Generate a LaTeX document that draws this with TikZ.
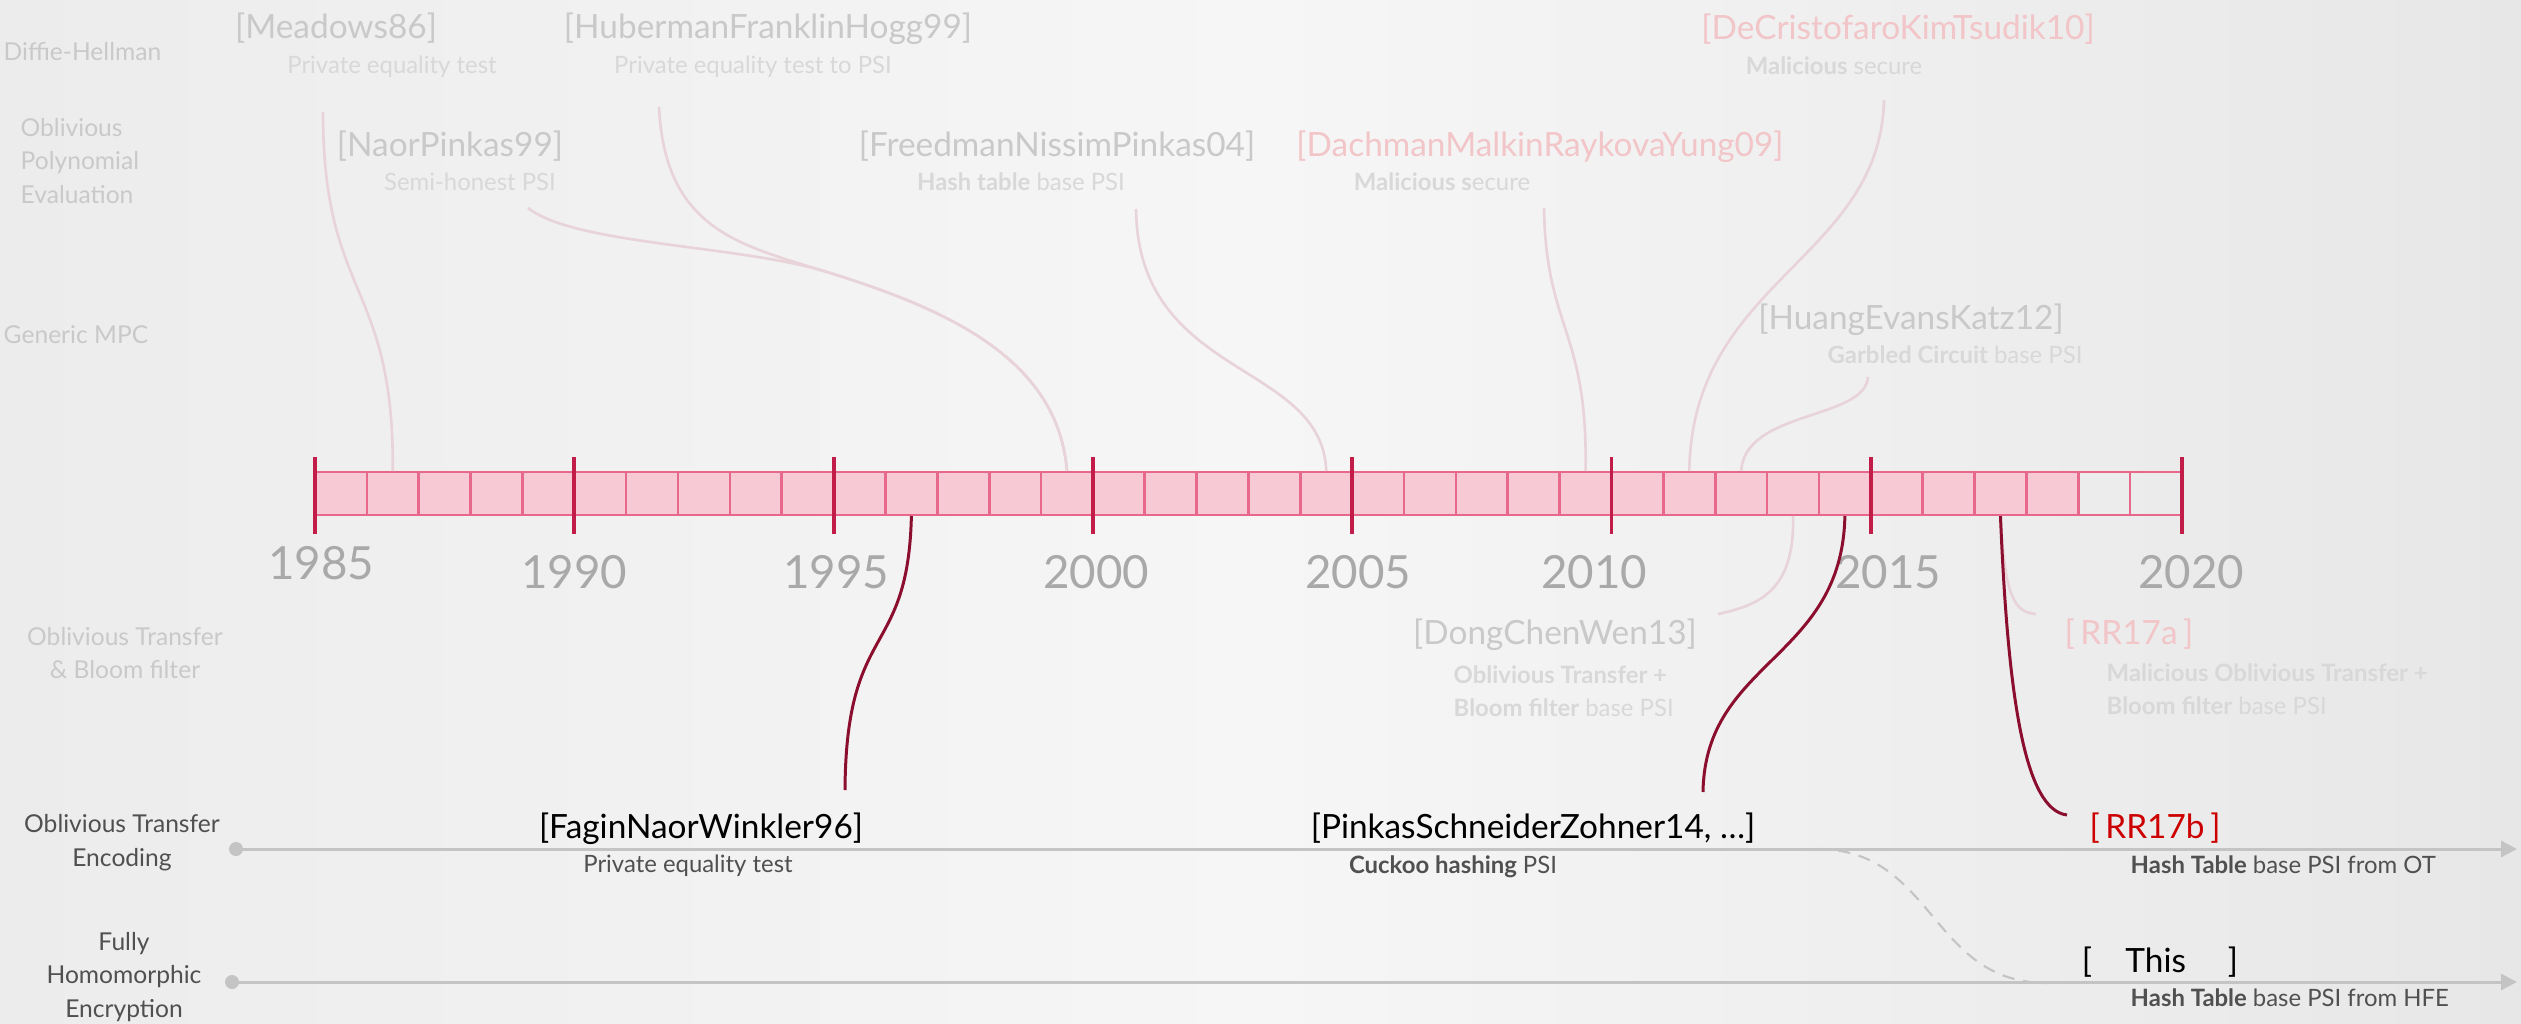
\documentclass[tikz,border=0pt]{standalone}
\usepackage{fontspec}
\setmainfont{Lato}
\usetikzlibrary{arrows.meta}

\definecolor{paperleft}{HTML}{ECECEC}
\definecolor{papermid}{HTML}{F6F6F6}
\definecolor{paperright}{HTML}{E7E7E7}
\definecolor{cellfill}{HTML}{F7C9D5}
\definecolor{cellline}{HTML}{E8688B}
\definecolor{tickred}{HTML}{C21C48}
\definecolor{yeargray}{HTML}{A9A9A9}
\definecolor{oldgray}{HTML}{C9C9C9}
\definecolor{oldsub}{HTML}{D8D8D8}
\definecolor{oldpink}{HTML}{F2C5C8}
\definecolor{oldlink}{HTML}{E8D3D9}
\definecolor{newlink}{HTML}{8C0E2E}
\definecolor{trackgray}{HTML}{C4C4C4}
\definecolor{labelgray}{HTML}{505050}
\definecolor{ourred}{HTML}{CC0000}

\begin{document}
\begin{tikzpicture}[
x=0.1mm, y=-0.1mm,
citenode/.style={anchor=base, inner sep=0pt, font=\fontsize{9.5}{11}\selectfont},
notenode/.style={anchor=base, inner sep=0pt, font=\fontsize{6.8}{9.4}\selectfont},
sidenode/.style={inner sep=0pt, font=\fontsize{7}{9.6}\selectfont},
yearnode/.style={inner sep=0pt, yeargray, font=\fontsize{13}{15}\selectfont},
oldlinkline/.style={oldlink, line width=0.75pt},
newlinkline/.style={newlink, line width=0.85pt},
trackline/.style={trackgray, line width=0.85pt, -{Triangle[length=4.5pt, width=4.5pt]}},
trackdot/.style={circle, fill=trackgray, inner sep=0pt, minimum size=1.4mm},
forkline/.style={trackgray, line width=0.6pt, dash pattern=on 3.5pt off 2.5pt}
]

\useasboundingbox (0,0) rectangle (2521,1024);
\shade[left color=paperleft, right color=paperright, middle color=papermid]
(0,0) rectangle (2521,1024);

% technique labels on the left
\node[sidenode, oldgray, anchor=west] (dh) at (3,52) {Diffie-Hellman};
\node[sidenode, oldgray, anchor=west, align=left] (ope) at (20,161)
{Oblivious\\Polynomial\\Evaluation};
\node[sidenode, oldgray, anchor=west] (mpc) at (3,335) {Generic MPC};
\node[sidenode, oldgray, align=center] (otbf) at (125,653)
{Oblivious Transfer\\\& Bloom filter};
\node[sidenode, labelgray, align=center] (otlabel) at (122,843)
{Oblivious Transfer\\Encoding};
\node[sidenode, labelgray, align=center] (fhelabel) at (124,977)
{Fully\\Homomorphic\\Encryption};

% year bar
\fill[cellfill] (315,472) rectangle ({315+34*51.86},515);
\draw[cellline, line width=0.85pt] (315,472) -- (2182,472) (315,515) -- (2182,515);
\foreach \i in {1,...,35}
\draw[cellline, line width=0.75pt] ({315+\i*51.86},472) -- ({315+\i*51.86},515);
\foreach \i in {0,5,...,30,36}
\draw[tickred, line width=1.1pt] ({315+\i*51.86},457) -- ({315+\i*51.86},534);
\foreach \i in {0,...,35} {
\pgfmathtruncatemacro\yy{1985+\i}
\coordinate (t\yy) at ({315+(\i+0.5)*51.86},471);
\coordinate (b\yy) at ({315+(\i+0.5)*51.86},516);
}

\node[yearnode] (y1985) at (321,563) {1985};
\node[yearnode] (y1990) at (574,572) {1990};
\node[yearnode] (y1995) at (836,572) {1995};
\node[yearnode] (y2000) at (1096,572) {2000};
\node[yearnode] (y2005) at (1358,572) {2005};
\node[yearnode] (y2010) at (1594,572) {2010};
\node[yearnode] (y2015) at (1888,572) {2015};
\node[yearnode] (y2020) at (2191,572) {2020};

% earlier work, faded
\node[citenode, oldgray] (meadows) at (336,39) {[Meadows86]};
\node[notenode, oldsub] (meadowsnote) at (392,74) {Private equality test};
\node[citenode, oldgray] (hfh) at (768,39) {[HubermanFranklinHogg99]};
\node[notenode, oldsub] (hfhnote) at (753,74) {Private equality test to PSI};
\node[citenode, oldgray] (np) at (450,157) {[NaorPinkas99]};
\node[notenode, oldsub] (npnote) at (470,191) {Semi-honest PSI};
\node[citenode, oldgray] (fnp) at (1057,157) {[FreedmanNissimPinkas04]};
\node[notenode, oldsub] (fnpnote) at (1021,191) {\textbf{Hash table} base PSI};
\node[citenode, oldpink] (dmry) at (1540,157) {[DachmanMalkinRaykovaYung09]};
\node[notenode, oldsub] (dmrynote) at (1442,191) {\textbf{Malicious s}ecure};
\node[citenode, oldpink] (dkt) at (1898,40) {[DeCristofaroKimTsudik10]};
\node[notenode, oldsub] (dktnote) at (1834,75) {\textbf{Malicious} secure};
\node[citenode, oldgray] (hek) at (1911,329) {[HuangEvansKatz12]};
\node[notenode, oldsub] (heknote) at (1955,363) {\textbf{Garbled Circuit} base PSI};
\node[citenode, oldgray] (dcw) at (1555,644) {[DongChenWen13]};
\node[notenode, oldsub, anchor=west, align=left] (dcwnote) at (1453,691)
{\textbf{Oblivious Transfer +}\\\textbf{Bloom filter} base PSI};
\node[citenode, oldpink] (rra) at (2129,644) {[\,RR17a\,]};
\node[notenode, oldsub, anchor=west, align=left] (rranote) at (2106,689)
{\textbf{Malicious Oblivious Transfer +}\\\textbf{Bloom filter} base PSI};

\coordinate (meadows-in) at (323,112);
\coordinate (hfh-in) at (659,107);
\coordinate (np-in) at (528,208);
\coordinate (merge) at (827,272);
\coordinate (fnp-in) at (1136,209);
\coordinate (dmry-in) at (1544,208);
\coordinate (dkt-in) at (1884,100);
\coordinate (hek-in) at (1868,377);
\coordinate (dcw-out) at (1718,614);
\coordinate (rra-out) at (2036,614);

\draw[oldlinkline] (meadows-in) .. controls (323,300) and (394,280) .. (t1986);
\draw[oldlinkline] (np-in) .. controls (575,245) and (740,245) .. (merge)
.. controls (950,310) and (1058,360) .. (t1999);
\draw[oldlinkline] (hfh-in) .. controls (665,230) and (740,245) .. (merge)
.. controls (950,310) and (1058,360) .. (t1999);
\draw[oldlinkline] (fnp-in) .. controls (1138,380) and (1322,360) .. (t2004);
\draw[oldlinkline] (dmry-in) .. controls (1546,330) and (1588,330) .. (t2009);
\draw[oldlinkline] (dkt-in) .. controls (1880,260) and (1692,280) .. (t2011);
\draw[oldlinkline] (hek-in) .. controls (1865,420) and (1745,410) .. (t2012);
\draw[oldlinkline] (b2013) .. controls (1795,590) and (1760,605) .. (dcw-out);
\draw[oldlinkline] (b2017) .. controls (2005,600) and (2015,612) .. (rra-out);

% tracks
\node[trackdot] (otdot) at (236,849) {};
\node[trackdot] (fhedot) at (232,982) {};
\coordinate (otend) at (2517,849);
\coordinate (fheend) at (2517,982);
\draw[trackline] (otdot.center) -- (otend);
\draw[trackline] (fhedot.center) -- (fheend);
\coordinate (fork) at (1817,849);
\coordinate (join) at (2047,983);
\draw[forkline] (fork) .. controls (1935,849) and (1930,983) .. (join);

% hash table based work
\node[citenode] (fnw) at (701,838) {[FaginNaorWinkler96]};
\node[notenode, labelgray] (fnwnote) at (688,872) {Private equality test};
\node[citenode] (psz) at (1533,838) {[PinkasSchneiderZohner14, …]};
\node[notenode, labelgray] (psznote) at (1453,873) {\textbf{Cuckoo hashing} PSI};
\node[citenode, ourred] (rrb) at (2155,838) {[\,RR17b\,]};
\node[notenode, labelgray, anchor=base west] (rrbnote) at (2130,873)
{\textbf{Hash Table} base PSI from OT};
\node[citenode] (ours) at (2160,972) {[\quad This\quad\ ]};
\node[notenode, labelgray, anchor=base west] (oursnote) at (2130,1006)
{\textbf{Hash Table} base PSI from HFE};

\coordinate (fnw-out) at (845,790);
\coordinate (psz-out) at (1703,792);
\coordinate (rrb-out) at (2067,815);

\draw[newlinkline] (b1996) .. controls (908,660) and (846,620) .. (fnw-out);
\draw[newlinkline] (b2014) .. controls (1842,660) and (1705,660) .. (psz-out);
\draw[newlinkline] (b2017) .. controls (2008,700) and (2025,810) .. (rrb-out);

\end{tikzpicture}
\end{document}
